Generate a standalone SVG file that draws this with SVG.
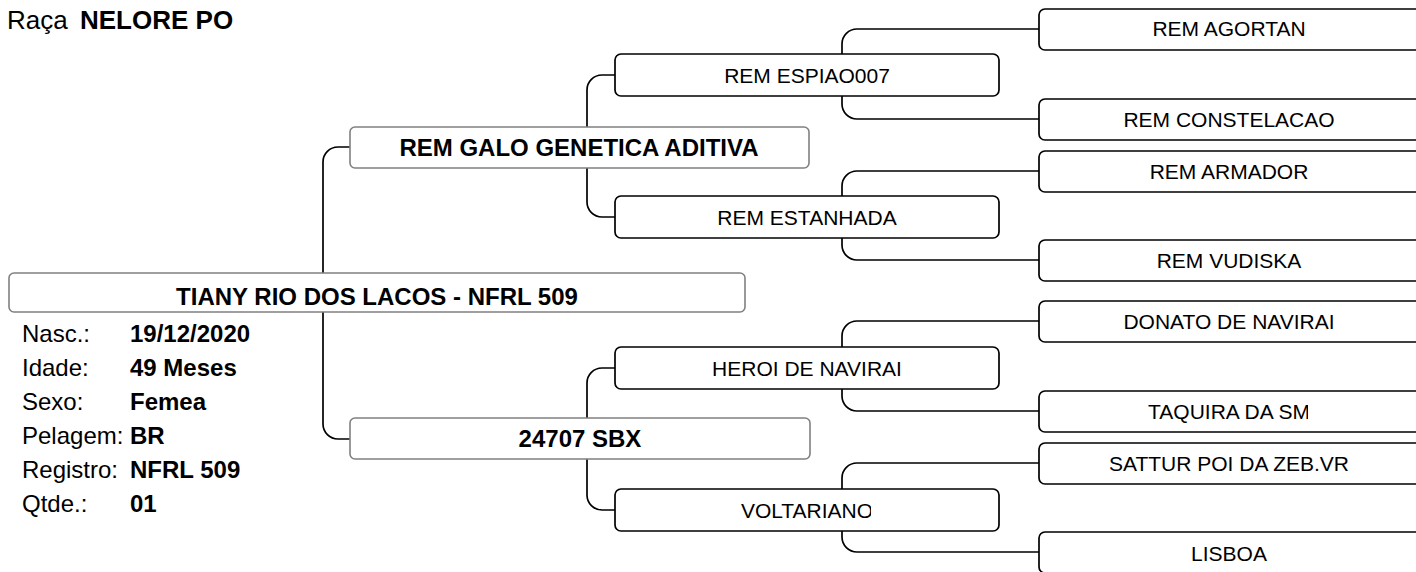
<svg xmlns="http://www.w3.org/2000/svg" width="1416" height="572" viewBox="0 0 1416 572">
<style>
text{font-family:"Liberation Sans",Arial,sans-serif;fill:#000}
.t{font-size:26px}
.tb{font-size:26px;font-weight:bold}
.lab{font-size:24px}
.val{font-size:24px;font-weight:bold}
.g{fill:#fff;stroke:#808080;stroke-width:1.6}
.k{fill:#fff;stroke:#000;stroke-width:1.7}
.b{font-size:24px;font-weight:bold;text-anchor:middle}
.n{font-size:21px;text-anchor:middle}
.c{fill:none;stroke:#000;stroke-width:1.7}
</style>
<defs>
<clipPath id="cv"><rect x="615" y="489" width="256" height="42"/></clipPath>
<clipPath id="ct"><rect x="1039" y="391" width="269" height="41"/></clipPath>
</defs>
<rect width="1416" height="572" fill="#fff"/>
<g id="header">
<text class="t" x="7" y="29">Raça</text>
<text class="tb" x="80" y="29">NELORE PO</text>
</g>
<g id="connectors">
<path class="c" d="M350,147 H338 A15,15 0 0 0 323,162 V424 A15,15 0 0 0 338,439 H350"/>
<path class="c" d="M615,75 H602 A15,15 0 0 0 587,90 V202 A15,15 0 0 0 602,217 H615"/>
<path class="c" d="M615,368 H602 A15,15 0 0 0 587,383 V495 A15,15 0 0 0 602,510 H615"/>
<path class="c" d="M1039,29 H857 A15,15 0 0 0 842,44 V104 A15,15 0 0 0 857,119 H1039"/>
<path class="c" d="M1039,171 H857 A15,15 0 0 0 842,186 V245 A15,15 0 0 0 857,260 H1039"/>
<path class="c" d="M1039,321 H857 A15,15 0 0 0 842,336 V396 A15,15 0 0 0 857,411 H1039"/>
<path class="c" d="M1039,463 H857 A15,15 0 0 0 842,478 V537 A15,15 0 0 0 857,552 H1039"/>
</g>
<g id="root">
<rect class="g" x="9" y="273" width="736" height="39" rx="5"/>
<text class="b" x="377" y="305">TIANY RIO DOS LACOS - NFRL 509</text>
</g>
<g id="info">
<text class="lab" x="22" y="342">Nasc.:</text><text class="val" x="130" y="342">19/12/2020</text>
<text class="lab" x="22" y="376">Idade:</text><text class="val" x="130" y="376">49 Meses</text>
<text class="lab" x="22" y="410">Sexo:</text><text class="val" x="130" y="410">Femea</text>
<text class="lab" x="22" y="444">Pelagem:</text><text class="val" x="130" y="444">BR</text>
<text class="lab" x="22" y="478">Registro:</text><text class="val" x="130" y="478">NFRL 509</text>
<text class="lab" x="22" y="512">Qtde.:</text><text class="val" x="130" y="512">01</text>
</g>
<g id="sire">
<rect class="g" x="350" y="127" width="459" height="41" rx="5"/>
<text class="b" x="579" y="156">REM GALO GENETICA ADITIVA</text>
</g>
<g id="dam">
<rect class="g" x="350" y="418" width="460" height="41" rx="5"/>
<text class="b" x="580" y="447">24707 SBX</text>
</g>
<g id="ss">
<rect class="k" x="615" y="54" width="384" height="42" rx="6"/>
<text class="n" x="807" y="82.5">REM ESPIAO007</text>
</g>
<g id="sd">
<rect class="k" x="615" y="196" width="384" height="42" rx="6"/>
<text class="n" x="807" y="224.5">REM ESTANHADA</text>
</g>
<g id="ds">
<rect class="k" x="615" y="347" width="384" height="42" rx="6"/>
<text class="n" x="807" y="375.5">HEROI DE NAVIRAI</text>
</g>
<g id="dd">
<rect class="k" x="615" y="489" width="384" height="42" rx="6"/>
<text class="n" x="807" y="517.5" clip-path="url(#cv)">VOLTARIANO</text>
</g>
<g id="sss">
<rect class="k" x="1039" y="9" width="400" height="41" rx="6"/>
<text class="n" x="1229" y="35.5">REM AGORTAN</text>
</g>
<g id="ssd">
<rect class="k" x="1039" y="99" width="400" height="41" rx="6"/>
<text class="n" x="1229" y="126.5">REM CONSTELACAO</text>
</g>
<g id="sds">
<rect class="k" x="1039" y="151" width="400" height="41" rx="6"/>
<text class="n" x="1229" y="179">REM ARMADOR</text>
</g>
<g id="sdd">
<rect class="k" x="1039" y="240" width="400" height="41" rx="6"/>
<text class="n" x="1229" y="268">REM VUDISKA</text>
</g>
<g id="dss">
<rect class="k" x="1039" y="301" width="400" height="41" rx="6"/>
<text class="n" x="1229" y="329">DONATO DE NAVIRAI</text>
</g>
<g id="dsd">
<rect class="k" x="1039" y="391" width="400" height="41" rx="6"/>
<text class="n" x="1229" y="418.5" clip-path="url(#ct)">TAQUIRA DA SM</text>
</g>
<g id="dds">
<rect class="k" x="1039" y="443" width="400" height="41" rx="6"/>
<text class="n" x="1229" y="470.5">SATTUR POI DA ZEB.VR</text>
</g>
<g id="ddd">
<rect class="k" x="1039" y="532" width="400" height="41" rx="6"/>
<text class="n" x="1229" y="561">LISBOA</text>
</g>
</svg>
